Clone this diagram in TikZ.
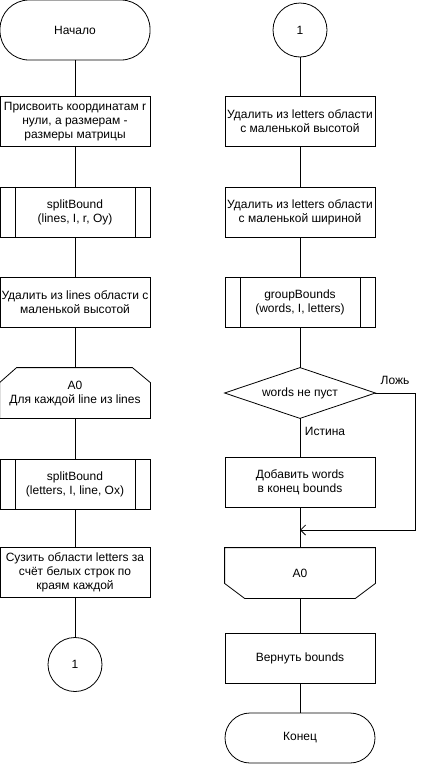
\documentclass[tikz,border=0pt]{standalone}
\usepackage{fontspec}
\setmainfont{Liberation Sans}
\usetikzlibrary{arrows.meta}
\begin{document}
\begin{tikzpicture}[x={(1pt,0)},y={(0,-1pt)},
  line width=0.8pt,
  every node/.style={font=\fontsize{12}{14}\selectfont, align=center, inner sep=0pt},
  proc/.style={draw, minimum width=150pt, minimum height=50pt},
  term/.style={draw, minimum width=150pt, minimum height=50pt, rounded corners=25pt},
  term60/.style={draw, minimum width=150pt, minimum height=60pt, rounded corners=29pt},
  predef/.style={draw, minimum width=150pt, minimum height=50pt,
    path picture={\draw ([xshift=15pt]path picture bounding box.north west) -- ([xshift=15pt]path picture bounding box.south west);
                  \draw ([xshift=-15pt]path picture bounding box.north east) -- ([xshift=-15pt]path picture bounding box.south east);}},
  loopbox/.style={minimum width=150pt, minimum height=50pt},
  conn/.style={draw, circle, minimum size=54pt},
  lbl/.style={font=\fontsize{12}{14}\selectfont}
]
\useasboundingbox (0,0) rectangle (424,774);

% left column
\node[term60] (start) at (75,30) {Начало};
\node[proc] (b1) at (75,121.5) {Присвоить координатам r\\нули, а размерам -\\размеры матрицы};
\node[predef] (sb1) at (75,212) {splitBound\\(lines, I, r, Oy)};
\node[proc] (del) at (75,302) {Удалить из lines области с\\маленькой высотой};
\node[loopbox] (loop) at (75,393) {A0\\Для каждой line из lines};
\draw (loop.south west) -- ([yshift=-15pt]loop.north west) -- ([xshift=17pt]loop.north west)
  -- ([xshift=-18pt]loop.north east) -- ([yshift=-15pt]loop.north east) -- (loop.south east) -- cycle;
\node[predef] (sb2) at (75,484.5) {splitBound\\(letters, I, line, Ox)};
\node[proc] (narrow) at (75,572.5) {Сузить области letters за\\счёт белых строк по\\краям каждой};
\node[conn] (c1) at (75,664.5) {1};

\draw (start) -- (b1);
\draw (b1) -- (sb1);
\draw (sb1) -- (del);
\draw (del) -- (loop);
\draw (loop) -- (sb2);
\draw (sb2) -- (narrow);
\draw (narrow) -- (c1);

% right column
\node[conn] (c2) at (300,30) {1};
\node[proc] (d1) at (300,121.5) {Удалить из letters области\\с маленькой высотой};
\node[proc] (d2) at (300,212) {Удалить из letters области\\с маленькой шириной};
\node[predef] (gb) at (300,302) {groupBounds\\(words, I, letters)};
\node[loopbox] (dia) at (300,393) {words не пуст};
\draw (dia.west) -- (dia.north) -- (dia.east) -- (dia.south) -- cycle;
\node[proc] (add) at (300,482) {Добавить words\\в конец bounds};
\node[loopbox] (lend) at (300,573) {A0};
\draw (lend.north west) -- (lend.north east) -- ([yshift=15pt]lend.south east) -- ([xshift=-20pt]lend.south east)
  -- ([xshift=20pt]lend.south west) -- ([yshift=15pt]lend.south west) -- cycle;
\node[proc] (ret) at (300,658) {Вернуть bounds};
\node[term] (fin) at (300,738) {Конец};

\coordinate (fr) at (415,393);
\coordinate (fb) at (415,530);
\coordinate (mg) at (300,530);

\draw (c2) -- (d1);
\draw (d1) -- (d2);
\draw (d2) -- (gb);
\draw (gb) -- (dia);
\draw (dia) -- (add);
\draw (add) -- (lend);
\draw (lend) -- (ret);
\draw (ret) -- (fin);
\draw[-{Straight Barb[length=5pt,width=10pt]}] (dia.east) -- (fr) -- (fb) -- (mg);

\node[lbl] (lf) at (395,380) {Ложь};
\node[lbl] (lt) at (325,431) {Истина};
\end{tikzpicture}
\end{document}
